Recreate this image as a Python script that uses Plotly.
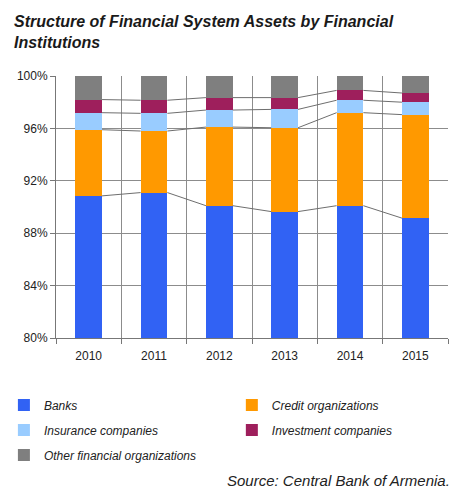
import numpy as np
import plotly.graph_objects as go

years = ["2010", "2011", "2012", "2013", "2014", "2015"]
banks = [90.85, 91.1, 90.1, 89.65, 90.1, 89.15]
credit = [5.05, 4.7, 6.0, 6.4, 7.1, 7.9]
insurance = [1.3, 1.35, 1.3, 1.4, 0.95, 0.95]
investment = [1.0, 1.0, 0.95, 0.9, 0.75, 0.7]
other = [1.8, 1.85, 1.65, 1.65, 1.1, 1.3]

series = [
    ("Banks", banks, "#3162F4", "legend"),
    ("Credit organizations", credit, "#FF9900", "legend2"),
    ("Insurance companies", insurance, "#99CCFF", "legend"),
    ("Investment companies", investment, "#9E1F5C", "legend2"),
    ("Other financial organizations", other, "#7F7F7F", "legend"),
]

x = np.arange(len(years))
bar_w = 0.41
fig = go.Figure()

for name, vals, col, lg in series:
    fig.add_trace(go.Bar(x=x, y=vals, name="<i>" + name + "</i>", legend=lg, legendgroup=name,
                         marker=dict(color=col, line=dict(width=0)), width=bar_w))

# series connector lines between bar tops
cum = np.zeros(len(years))
for name, vals, col, lg in series[:-1]:
    cum = cum + np.array(vals)
    lx, ly = [], []
    for i in range(len(years) - 1):
        lx += [x[i] + bar_w / 2, x[i + 1] - bar_w / 2, None]
        ly += [cum[i], cum[i + 1], None]
    fig.add_trace(go.Scatter(x=lx, y=ly, mode="lines", line=dict(color="#6E6E6E", width=1),
                             showlegend=False, hoverinfo="skip"))

grid_col = "#8C8C8C"
bounds = [i - 0.5 for i in range(len(years) + 1)]
leg_common = dict(orientation="v", yanchor="top", xanchor="left", traceorder="grouped",
                  font=dict(size=12, color="#222"), tracegroupgap=6, bgcolor="rgba(0,0,0,0)")
fig.update_layout(
    width=453, height=498,
    barmode="stack",
    bargap=0,
    paper_bgcolor="white", plot_bgcolor="white",
    margin=dict(l=55, r=5, t=76, b=160),
    font=dict(family="Liberation Sans, Arial, sans-serif", size=12, color="#222"),
    xaxis=dict(range=[-0.5, 5.5], tickmode="array", tickvals=list(x), ticktext=years,
               ticks="", showgrid=False, showline=True, linecolor="#777", linewidth=1,
               zeroline=False, tickfont=dict(size=12), ticklabelstandoff=7,
               minor=dict(tickmode="array", tickvals=bounds, ticks="outside", ticklen=5,
                          tickcolor="#777", showgrid=True, gridcolor=grid_col, gridwidth=1)),
    yaxis=dict(range=[80, 100], dtick=4, ticksuffix="%", showgrid=True, gridcolor=grid_col,
               gridwidth=1, showline=True, linecolor="#777", linewidth=1, ticks="outside",
               ticklen=5, tickcolor="#777", zeroline=False, tickfont=dict(size=12)),
    legend=dict(x=-0.13, y=-0.2, **leg_common),
    legend2=dict(x=0.45, y=-0.2, **leg_common),
    annotations=[
        dict(text="<b><i>Structure of Financial System Assets by Financial<br>Institutions</i></b>",
             xref="paper", yref="paper", x=-0.112, y=1.25, xanchor="left", yanchor="top",
             align="left", showarrow=False, font=dict(size=16, color="#1a1a1a")),
        dict(text="<i>Source: Central Bank of Armenia.</i>", xref="paper", yref="paper",
             x=1.01, y=-0.545, xanchor="right", yanchor="middle", showarrow=False,
             font=dict(size=15, color="#222")),
    ],
)

fig.write_html("out.html")
